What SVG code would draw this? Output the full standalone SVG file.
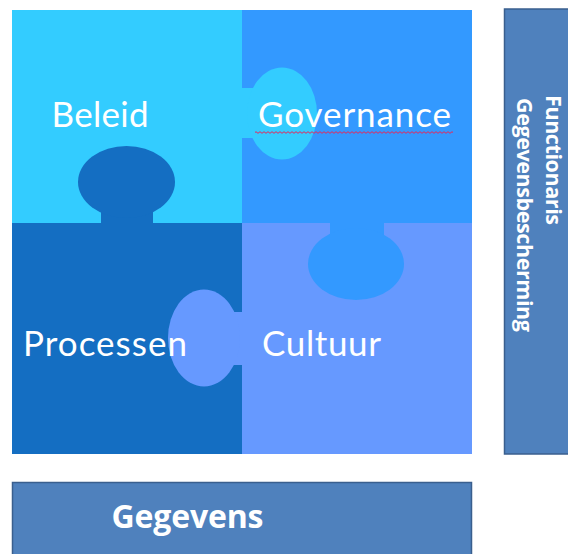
<svg xmlns="http://www.w3.org/2000/svg" width="568" height="554" viewBox="0 0 568 554">
<style>
.lbl{font-family:Lato,"Open Sans","Liberation Sans",sans-serif;fill:#ffffff;font-size:35px}
.bold{font-family:"Open Sans","Liberation Sans",sans-serif;fill:#ffffff;font-weight:bold}
.bar{fill:#4F81BD;stroke:#3A5F8E;stroke-width:1.5}
.c1{fill:#33CCFF}.c2{fill:#3399FF}.c3{fill:#146EC2}.c4{fill:#6699FF}
</style>
<rect width="568" height="554" fill="#ffffff"/>
<g id="squares">
<rect class="c1" x="12" y="10" width="230" height="213"/>
<rect class="c2" x="242" y="10" width="230" height="213"/>
<rect class="c3" x="12" y="223" width="230" height="231"/>
<rect class="c4" x="242" y="223" width="230" height="231"/>
</g>
<g id="connectors"></g>
<g id="beleid">
<rect class="c1" x="241" y="88" width="30" height="50"/>
<ellipse class="c1" cx="282" cy="113.5" rx="35" ry="46"/>
<text class="lbl" x="51.5" y="127" textLength="97">Beleid</text>
</g>
<g id="governance">
<rect class="c2" x="330" y="222" width="54" height="25"/>
<ellipse class="c2" cx="356" cy="264" rx="48" ry="36"/>
<text class="lbl" x="258" y="127" textLength="193">Governance</text>
<path d="M255 132.5 q1 -1.6 2 0 t2 0 t2 0 t2 0 t2 0 t2 0 t2 0 t2 0 t2 0 t2 0 t2 0 t2 0 t2 0 t2 0 t2 0 t2 0 t2 0 t2 0 t2 0 t2 0 t2 0 t2 0 t2 0 t2 0 t2 0 t2 0 t2 0 t2 0 t2 0 t2 0 t2 0 t2 0 t2 0 t2 0 t2 0 t2 0 t2 0 t2 0 t2 0 t2 0 t2 0 t2 0 t2 0 t2 0 t2 0 t2 0 t2 0 t2 0 t2 0 t2 0 t2 0 t2 0 t2 0 t2 0 t2 0 t2 0 t2 0 t2 0 t2 0 t2 0 t2 0 t2 0 t2 0 t2 0 t2 0 t2 0 t2 0 t2 0 t2 0 t2 0 t2 0 t2 0 t2 0 t2 0 t2 0 t2 0 t2 0 t2 0 t2 0 t2 0 t2 0 t2 0 t2 0 t2 0 t2 0 t2 0 t2 0 t2 0 t2 0 t2 0 t2 0 t2 0 t2 0 t2 0 t2 0 t2 0 t2 0 t2 0 t2 0" fill="none" stroke="#E8275A" stroke-width="1"/>
</g>
<g id="cultuur">
<rect class="c4" x="215" y="312" width="28" height="53"/>
<ellipse class="c4" cx="204" cy="338" rx="36" ry="48.5"/>
<text class="lbl" x="262" y="356" textLength="119">Cultuur</text>
</g>
<g id="processen">
<rect class="c3" x="101" y="200" width="52" height="24"/>
<ellipse class="c3" cx="126.5" cy="182" rx="48.5" ry="36"/>
<text class="lbl" x="23" y="356" textLength="164">Processen</text>
</g>
<g id="functionaris">
<rect class="bar" x="504.5" y="9" width="80" height="445"/>
<text class="bold" font-size="21.5" transform="translate(546,95) rotate(90)" textLength="130">Functionaris</text>
<text class="bold" font-size="21.5" transform="translate(517,98) rotate(90)" textLength="234">Gegevensbescherming</text>
</g>
<g id="gegevens">
<rect class="bar" x="12.5" y="482.5" width="459" height="80"/>
<text class="bold" font-size="32" x="111.5" y="528" textLength="152">Gegevens</text>
</g>
</svg>
